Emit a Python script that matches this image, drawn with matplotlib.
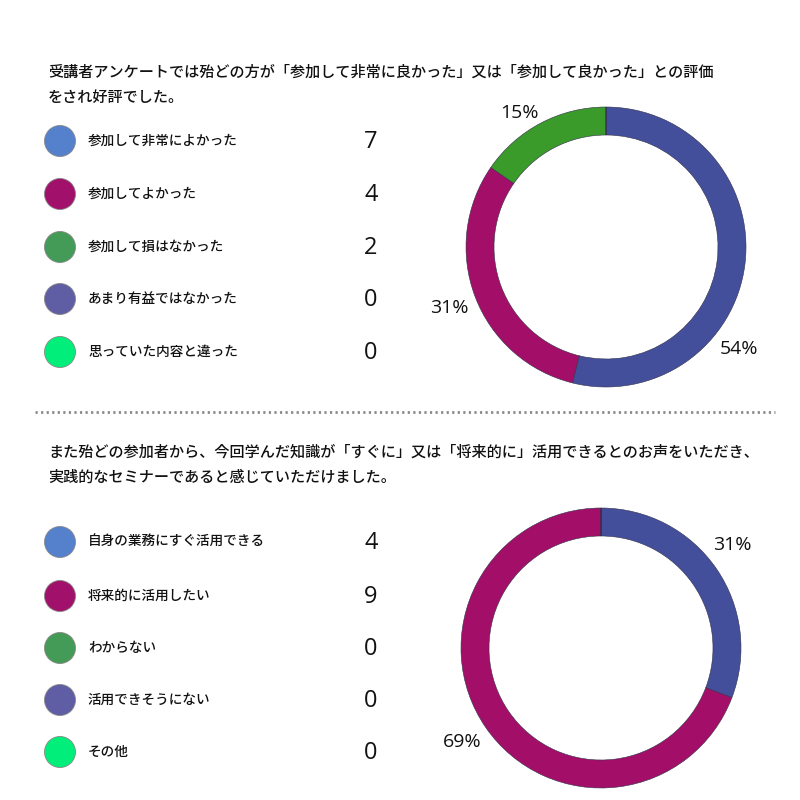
import matplotlib
matplotlib.use("Agg")
import matplotlib.pyplot as plt
from matplotlib.lines import Line2D
from matplotlib.patches import Circle
import numpy as np

plt.rcParams['font.family'] = ['Noto Sans CJK JP', 'DejaVu Sans']

# ---------------- data ----------------
title1 = ["受講者アンケートでは殆どの方が「参加して非常に良かった」又は「参加して良かった」との評価",
          "をされ好評でした。"]
cats1 = ["参加して非常によかった", "参加してよかった", "参加して損はなかった",
         "あまり有益ではなかった", "思っていた内容と違った"]
vals1 = [7, 4, 2, 0, 0]

title2 = ["また殆どの参加者から、今回学んだ知識が「すぐに」又は「将来的に」活用できるとのお声をいただき、",
          "実践的なセミナーであると感じていただけました。"]
cats2 = ["自身の業務にすぐ活用できる", "将来的に活用したい", "わからない",
         "活用できそうにない", "その他"]
vals2 = [4, 9, 0, 0, 0]

legend_colors = ["#5480CC", "#A1106A", "#449A57", "#5F5DA3", "#00EE79"]
slice_colors = ["#434F9B", "#A30F68", "#3A9A2A", "#5F5DA3", "#00EE79"]

W = H = 800
fig = plt.figure(figsize=(8, 8), dpi=100)
fig.patch.set_facecolor("white")

NUM_FONT = ['Open Sans', 'DejaVu Sans']


def fx(px):
    return px / W


def fy(py):
    return 1 - py / H


def section(title, cats, vals, title_y, row_ys, center, label_place):
    # title
    for i, line in enumerate(title):
        fig.text(fx(48), fy(title_y + i * 25), line, fontsize=10.9, va="center",
                 ha="left", color="#111111", fontweight="medium")
    # legend rows
    for cat, v, c, ry in zip(cats, vals, legend_colors, row_ys):
        circ = Circle((fx(60), fy(ry)), radius=15.5 / W, transform=fig.transFigure,
                      facecolor=c, edgecolor="#888888", linewidth=0.6)
        fig.patches.append(circ)
        fig.text(fx(88), fy(ry), cat, fontsize=9.8, va="center", ha="left",
                 color="#111111", fontweight="medium")
        fig.text(fx(371), fy(ry + 1), str(v), fontsize=17, va="center", ha="center",
                 color="#111111", family=NUM_FONT)
    # donut
    cx, cy = center
    R = 140
    ax = fig.add_axes([fx(cx - R), fy(cy + R), 2 * R / W, 2 * R / H])
    ax.pie(vals, colors=slice_colors, startangle=90, counterclock=False,
           radius=1, wedgeprops=dict(width=0.2, edgecolor="#30304a", linewidth=0.4))
    ax.set_xlim(-1, 1)
    ax.set_ylim(-1, 1)
    ax.set_aspect("equal")
    ax.axis("off")
    total = sum(vals)
    cum = 0
    for i, v in enumerate(vals):
        if v > 0:
            mid = cum + v / 2
            ang = 90 - 360 * mid / total
            r = 1.2
            if i in label_place:
                ang, r = label_place[i]
            x = r * np.cos(np.radians(ang))
            y = r * np.sin(np.radians(ang))
            ax.text(x, y, f"{round(100 * v / total)}%", fontsize=14, ha="center",
                    va="center", color="#111111", clip_on=False, family=NUM_FONT)
        cum += v


section(title1, cats1, vals1, 72, [141, 194, 247, 299, 352], (606, 247),
        {0: (-37.5, 1.2), 1: (-158.6, 1.2), 2: (123, 1.14)})
section(title2, cats2, vals2, 452, [542, 596, 648, 700, 752], (601, 648),
        {0: (38, 1.19), 1: (-146, 1.2)})

# dotted separator
fig.add_artist(Line2D([fx(35), fx(775)], [fy(412), fy(412)], transform=fig.transFigure,
                      color="#8a8a8a", linewidth=2, linestyle=(0, (0.8, 1.2))))

fig.savefig("out.png", dpi=100, facecolor="white")
